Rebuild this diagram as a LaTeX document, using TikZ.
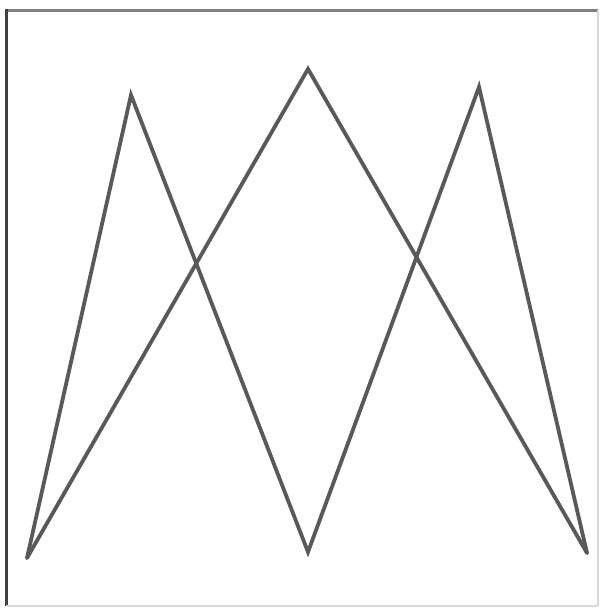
\documentclass[tikz,border=0pt]{standalone}
\begin{document}
\begin{tikzpicture}[x=1pt,y=-1pt,
  zig/.style={draw=black!65,line width=3.8pt,line join=miter,line cap=round}]
\useasboundingbox (0,0) rectangle (602,608);
\fill[white] (0,0) rectangle (602,608);
% frame
\draw[black!50,line width=3pt] (6,10.5) -- (598,10.5);
\draw[black!75,line width=2.5pt] (6.5,9) -- (6.5,606);
\draw[black!15,line width=2pt] (598,10) -- (598,606);
\draw[black!15,line width=2pt] (6,606) -- (598,606);
% vertices
\coordinate (bl) at (27,558);
\coordinate (p1) at (131,95);
\coordinate (bm) at (308,552);
\coordinate (p2) at (308,69);
\coordinate (p3) at (479,87);
\coordinate (br) at (587,553);
\draw[zig] (bl) -- (p1) -- (bm) -- (p3) -- (br);
\draw[zig] (bl) -- (p2) -- (br);
\end{tikzpicture}
\end{document}
